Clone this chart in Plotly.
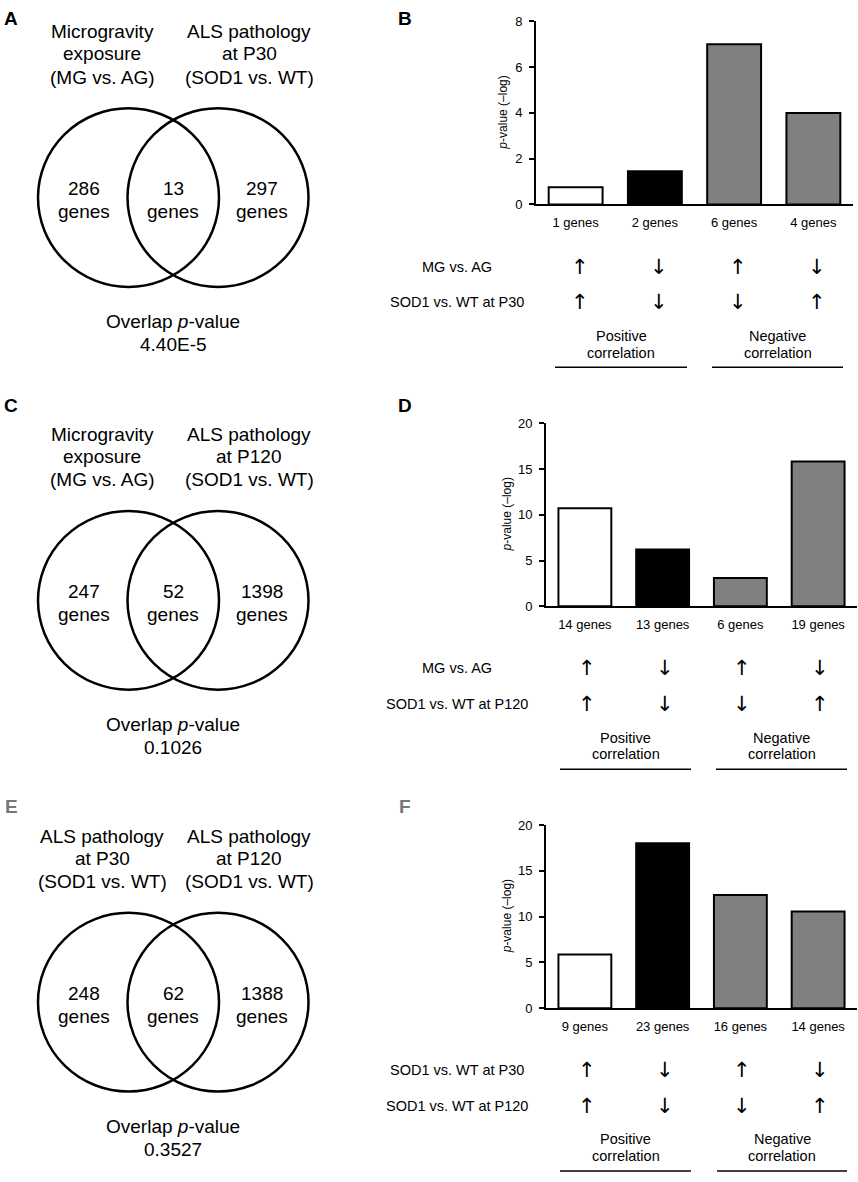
import plotly.graph_objects as go

W, H = 858, 1182
FONT = "Liberation Sans, Arial, sans-serif"

# ---------------- data ----------------
b_labels = ["1 genes", "2 genes", "6 genes", "4 genes"]
b_values = [0.75, 1.45, 7.0, 4.0]
d_labels = ["14 genes", "13 genes", "6 genes", "19 genes"]
d_values = [10.7, 6.2, 3.1, 15.8]
f_labels = ["9 genes", "23 genes", "16 genes", "14 genes"]
f_values = [5.85, 18.0, 12.35, 10.55]
bar_colors = ["white", "black", "#808080", "#808080"]

arrows_top = ["↑", "↓", "↑", "↓"]
arrows_bottom = ["↑", "↓", "↓", "↑"]

b_rows = ["MG vs. AG", "SOD1 vs. WT at P30"]
d_rows = ["MG vs. AG", "SOD1 vs. WT at P120"]
f_rows = ["SOD1 vs. WT at P30", "SOD1 vs. WT at P120"]

a_left = ["Microgravity", "exposure", "(MG vs. AG)"]
a_right = ["ALS pathology", "at P30", "(SOD1 vs. WT)"]
a_counts = [286, 13, 297]
a_pvalue = "4.40E-5"

c_left = ["Microgravity", "exposure", "(MG vs. AG)"]
c_right = ["ALS pathology", "at P120", "(SOD1 vs. WT)"]
c_counts = [247, 52, 1398]
c_pvalue = "0.1026"

e_left = ["ALS pathology", "at P30", "(SOD1 vs. WT)"]
e_right = ["ALS pathology", "at P120", "(SOD1 vs. WT)"]
e_counts = [248, 62, 1388]
e_pvalue = "0.3527"


def px(x):
    return x / W


def py(y):
    return 1 - y / H


fig = go.Figure()


def text(x, y, s, size, color="black", family=FONT, **kw):
    fig.add_annotation(x=px(x), y=py(y), xref="paper", yref="paper", text=s,
                       showarrow=False, font=dict(size=size, color=color, family=family),
                       xanchor="center", yanchor="middle", **kw)


# ---------------- venn panels (left column) ----------------
venns = [
    (0, "A", "black", 12, a_left, a_right, a_counts, a_pvalue),
    (408, "C", "black", 404, c_left, c_right, c_counts, c_pvalue),
    (815, "E", "#777777", 810, e_left, e_right, e_counts, e_pvalue),
]
for off, letter, lcol, ly, left, right, counts, pval in venns:
    text(11, ly, "<b>%s</b>" % letter, 19, color=lcol)
    for i, yy in enumerate([25, 47, 71]):
        text(102, off + yy, left[i], 19)
        text(249, off + yy, right[i], 19)
    for cx in [128.5, 218]:
        r = 90.5
        cy = off + 193
        fig.add_shape(type="circle", xref="paper", yref="paper",
                      x0=px(cx - r), x1=px(cx + r), y0=py(cy + r), y1=py(cy - r),
                      line=dict(color="black", width=2.5))
    for cx, n in zip([84, 173, 262], counts):
        text(cx, off + 184, str(n), 19)
        text(cx, off + 207, "genes", 19)
    text(173, off + 319, "Overlap <i>p</i>-value", 19)
    text(173, off + 342, pval, 19)

# ---------------- bar panels (right column) ----------------
bars = [
    ("B", "black", 12, b_labels, b_values, 8, 2, 200, 536, 853, 503, b_rows,
     [(555, 687), (712, 843)], 4),
    ("D", "black", 404, d_labels, d_values, 20, 5, 607, 546, 857, 507, d_rows,
     [(560, 691), (716, 847)], 2),
    ("F", "#777777", 810, f_labels, f_values, 20, 5, 1014, 546, 857, 507, f_rows,
     [(560, 691), (717, 847)], 2),
]
for k, (letter, lcol, ly, labels, values, ymax, dtick, y0, xl, xr, ytx, rows, lines, ashift) in enumerate(bars):
    n = k + 1
    xa = "x" if n == 1 else "x%d" % n
    ya = "y" if n == 1 else "y%d" % n
    fig.add_trace(go.Bar(x=labels, y=values, width=0.68, xaxis=xa, yaxis=ya,
                         marker=dict(color=bar_colors, line=dict(color="black", width=2))))
    suffix = "" if n == 1 else str(n)
    fig.update_layout(**{
        "xaxis" + suffix: dict(domain=[px(xl), px(xr)], anchor=ya, range=[-0.5, 3.5],
                               showline=True, linewidth=2, linecolor="black", ticks="",
                               showgrid=False, zeroline=False, ticklabelstandoff=5,
                               tickfont=dict(size=13, family=FONT, color="black")),
        "yaxis" + suffix: dict(domain=[py(y0), py(y0 - 185.5)], anchor=xa, range=[0, ymax],
                               dtick=dtick, showline=True, linewidth=2, linecolor="black",
                               ticks="outside", ticklen=5, tickwidth=2, tickcolor="black",
                               showgrid=False, zeroline=False, ticklabelstandoff=4,
                               tickfont=dict(size=13, family=FONT, color="black")),
    })
    text(405, ly, "<b>%s</b>" % letter, 19, color=lcol)
    text(ytx, y0 - 93, "<i>p</i>-value (–log)", 12, textangle=-90)
    text(457, y0 + 63, rows[0], 14.5)
    text(457, y0 + 99, rows[1], 14.5)
    for i in range(4):
        for yy, arr in [(y0 + 63, arrows_top), (y0 + 99, arrows_bottom)]:
            fig.add_annotation(x=labels[i], y=py(yy), xref=xa, yref="paper", text=arr[i],
                               showarrow=False, xshift=ashift, xanchor="center", yanchor="middle",
                               font=dict(size=21, family="DejaVu Sans", color="black"))
    for (lx0, lx1), word in zip(lines, ["Positive", "Negative"]):
        cx = (lx0 + lx1) / 2
        text(cx, y0 + 133, word, 14.5)
        text(cx, y0 + 150, "correlation", 14.5)
        fig.add_shape(type="line", xref="paper", yref="paper", x0=px(lx0), x1=px(lx1),
                      y0=py(y0 + 165), y1=py(y0 + 165), line=dict(color="black", width=1.5))

fig.update_layout(width=W, height=H, margin=dict(l=0, r=0, t=0, b=0),
                  plot_bgcolor="white", paper_bgcolor="white", showlegend=False,
                  bargap=0.32, font=dict(family=FONT, color="black"))

# drop the page's default body margin so the figure fills the window exactly
fig.write_html("out.html", config={"displayModeBar": False},
               post_script="document.body.style.margin='0';document.body.style.overflow='hidden';")
